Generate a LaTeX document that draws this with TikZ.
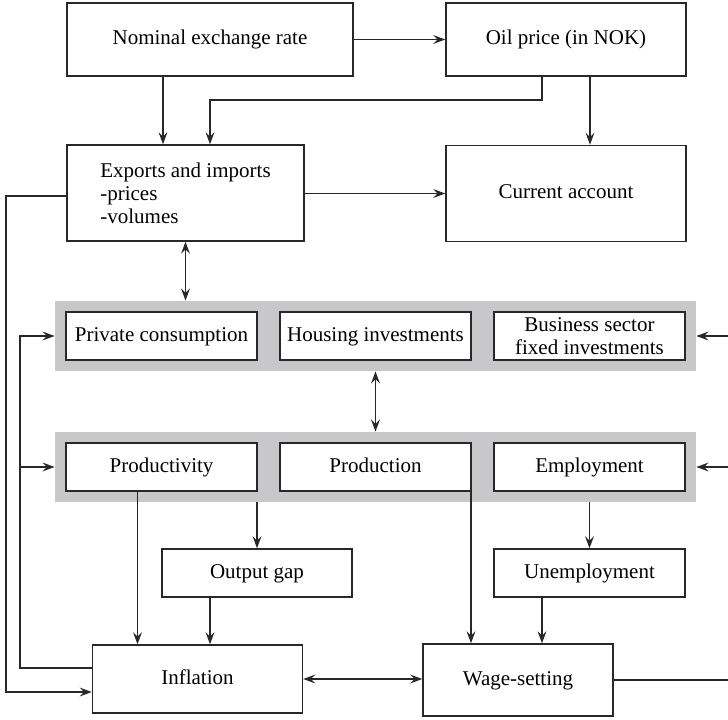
\documentclass[tikz,border=0pt]{standalone}
\usepackage{fontspec}
\setmainfont{Liberation Serif}
\usetikzlibrary{arrows.meta,positioning}
\definecolor{bandgray}{RGB}{200,200,202}
\definecolor{linegray}{RGB}{40,40,40}
\tikzset{%
  >={Stealth[length=6pt,width=4.4pt,inset=2.2pt]},
  % Specifications for style of nodes:
          box/.style = {rectangle, draw=linegray, fill=white, line width=0.75pt,
                        inner sep=0pt, text centered, align=center,
                        text height=7.3pt, text depth=2.2pt},
      topbox/.style = {box, minimum width=120pt, minimum height=36.5pt},
      midbox/.style = {box, minimum width=120pt, minimum height=48pt},
     bandbox/.style = {box, minimum width=95.5pt, minimum height=24pt},
   bottombox/.style = {box, minimum width=105pt, minimum height=34pt},
    twolines/.style = {text height=, text depth=},
        band/.style = {rectangle, fill=bandgray, inner sep=0pt,
                       minimum width=320.5pt, minimum height=35pt},
        link/.style = {draw=linegray, line width=0.75pt},
}

\begin{document}
\begin{tikzpicture}[x=0.5pt, y=-0.5pt, node distance=107pt,
    every node/.style={font=\fontsize{10.5}{11.5}\selectfont}]
  \useasboundingbox (0,0) rectangle (728,719);
  \clip (0,0) rectangle (728,719);
  % Specification of nodes (position, etc.)
  \node (nominal) [topbox, minimum width=143pt] at (210,39.5) {Nominal exchange rate};
  \node (oil) [topbox] at (566,39.5) {Oil price (in NOK)};

  \node (exports) [midbox, twolines, minimum width=118.5pt, align=left] at (185.5,193)
    {Exports and imports\\-prices\\-volumes};
  \node (current) [midbox] at (566,193.5) {Current account};

  % grey bands with the boxes on top
  \node (band1) [band] at (375.5,336) {};
  \node (housing) [bandbox] at (band1) {Housing investments};
  \node (private) [bandbox, left of=housing] {Private consumption};
  \node (business) [bandbox, twolines, right of=housing] {Business sector\\fixed investments};

  \node (band2) [band] at (375.5,467) {};
  \node (production) [bandbox] at (band2) {Production};
  \node (productivity) [bandbox, left of=production] {Productivity};
  \node (employment) [bandbox, right of=production] {Employment};

  \node (outputgap) [bandbox, minimum width=95pt] at (257,573) {Output gap};
  \node (unemployment) [bandbox] at (589.5,573) {Unemployment};

  \node (inflation) [bottombox] at (197.5,679) {Inflation};
  \node (wage) [bottombox, minimum width=95pt, minimum height=36pt] at (518,680) {Wage-setting};

  \coordinate (outer) at (6,692);
  \coordinate (inner) at (20,336);
  \coordinate (rbus) at (745,336);

  % Specification of lines between nodes specified above
\draw[->,link] (nominal) -- (oil);
\draw[->,link] ([xshift=-11.25pt]exports.north |- nominal.south) -- ([xshift=-11.25pt]exports.north);
\draw[->,link] ([xshift=-12pt]oil.south) -- ++(0,23) -| ([xshift=12.25pt]exports.north);
\draw[->,link] ([xshift=12pt]oil.south) -- ([xshift=12pt]current.north);
\draw[->,link] (exports.east |- current.west) -- (current.west);

\draw[->,link] ([yshift=-1.5pt]exports.west) -| (outer) -- (outer -| inflation.west);
\draw[->,link] ([yshift=5.5pt]inflation.west) -| (inner) -- (band1.west);
\draw[->,link] (inner |- band2.west) -- (band2.west);

\draw[<->,link] (exports.south) -- (exports.south |- band1.north);
\draw[<->,link] (band1.south) -- (band2.north);

\draw[->,link] ([xshift=-12pt]productivity.south) -- ([xshift=-12pt]productivity.south |- inflation.north);
\draw[->,link] (outputgap.north |- band2.south) -- (outputgap.north);
\draw[->,link] ([xshift=-23.5pt]outputgap.south) -- ([xshift=-23.5pt]outputgap.south |- inflation.north);

\draw[->,link] ([xshift=-23.5pt]wage.north |- production.south) -- ([xshift=-23.5pt]wage.north);
\draw[->,link] (unemployment.north |- band2.south) -- (unemployment.north);
\draw[->,link] ([xshift=12pt]wage.north |- unemployment.south) -- ([xshift=12pt]wage.north);

\draw[<->,link] (inflation.east) -- (inflation.east -| wage.west);
\draw[link] (wage.east) -| (rbus);
\draw[->,link] (rbus) -- (band1.east);
\draw[->,link] (rbus |- band2.east) -- (band2.east);
\end{tikzpicture}
\end{document}
